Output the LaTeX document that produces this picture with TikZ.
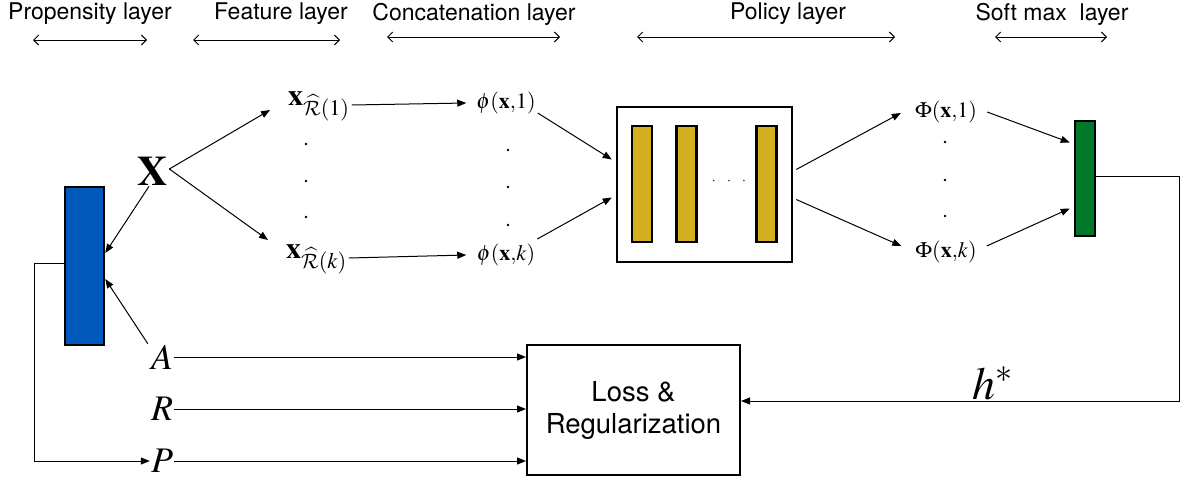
\documentclass[tikz,border=0pt]{standalone}
\usepackage{mathptmx}
\usepackage[no-math]{fontspec}
\setmainfont{TeX Gyre Heros}
\DeclareMathAlphabet{\mathcal}{OMS}{cmsy}{m}{n}
\usepackage{tikz}
\usetikzlibrary{positioning, arrows.meta, calc}
\definecolor{propblue}{HTML}{0058BB}
\definecolor{softgreen}{HTML}{00782A}
\definecolor{policygold}{HTML}{D4B020}

\begin{document}
\begin{tikzpicture}[x=1pt, y=-1pt,
    hdr/.style={font=\fontsize{23}{26}\selectfont, inner sep=1pt},
    hdrarrow/.style={{Straight Barb[length=5pt,width=10pt]}-{Straight Barb[length=5pt,width=10pt]}, line width=1pt},
    arr/.style={-{Triangle[length=9pt,width=7pt]}, line width=1pt},
    mlbl/.style={font=\fontsize{22}{24}\selectfont, inner sep=2pt},
    featlbl/.style={font=\fontsize{30}{32}\selectfont, inner sep=2pt, anchor=west},
    bigvar/.style={font=\fontsize{36}{40}\selectfont, inner sep=1pt},
    bar/.style={draw, line width=2.5pt, minimum width=20pt, minimum height=116pt, inner sep=0pt}]
  \useasboundingbox (0,0) rectangle (1184,479);

  % layer headers
  \node[hdr] (hprop) at (90,14) {Propensity layer};
  \node[hdr] (hfeat) at (281,14) {Feature layer};
  \node[hdr] (hconc) at (474,14) {Concatenation layer};
  \node[hdr] (hpol) at (788,14) {Policy layer};
  \node[hdr] (hsoft) at (1052,14) {Soft max\ \ layer};
  \coordinate (hprop-l) at (33,40);   \coordinate (hprop-r) at (147,40);
  \coordinate (hfeat-l) at (193,40);  \coordinate (hfeat-r) at (340,40);
  \coordinate (hconc-l) at (387,37);  \coordinate (hconc-r) at (560,37);
  \coordinate (hpol-l) at (637,37);   \coordinate (hpol-r) at (895,37);
  \coordinate (hsoft-l) at (995,37);  \coordinate (hsoft-r) at (1107,37);
  \draw[hdrarrow] (hprop-l) -- (hprop-r);
  \draw[hdrarrow] (hfeat-l) -- (hfeat-r);
  \draw[hdrarrow] (hconc-l) -- (hconc-r);
  \draw[hdrarrow] (hpol-l) -- (hpol-r);
  \draw[hdrarrow] (hsoft-l) -- (hsoft-r);

  % propensity block and inputs
  \node[draw, fill=propblue, line width=2.5pt, minimum width=39pt, minimum height=158pt,
        inner sep=0pt] (prop) at (84.5,266) {};
  \node[font=\fontsize{42}{46}\selectfont, inner sep=1pt] (X) at (153,171) {$\mathbf{X}$};
  \node[bigvar] (A) at (162,357) {$A$};
  \node[bigvar] (R) at (162,409) {$R$};
  \node[bigvar] (P) at (162,461) {$P$};

  % feature layer
  \node[featlbl] (xr1) at (286,106) {$\mathbf{x}_{\widehat{\mathcal{R}}(1)}$};
  \node[featlbl] (xrk) at (284,259) {$\mathbf{x}_{\widehat{\mathcal{R}}(k)}$};

  % concatenation layer
  \node[mlbl] (phi1) at (506,103) {$\phi(\mathbf{x}{,}1)$};
  \node[mlbl] (phik) at (506,255) {$\phi(\mathbf{x}{,}k)$};

  % policy layer
  \node[draw, line width=2.5pt, minimum width=175pt, minimum height=155pt, inner sep=0pt]
        (policy) at (704.5,184.5) {};
  \node[bar, fill=policygold] (bar1) at (642,184) {};
  \node[bar, fill=policygold] (bar2) at (686.5,184) {};
  \node[bar, fill=policygold] (bar3) at (766.5,184) {};
  \node[font=\fontsize{14}{16}\selectfont] (bdots) at (729,181) {$\cdot\;\;\;\cdot\;\;\;\cdot$};

  % soft max layer
  \node[mlbl] (Phi1) at (946,112) {$\Phi(\mathbf{x}{,}1)$};
  \node[mlbl] (Phik) at (946,252) {$\Phi(\mathbf{x}{,}k)$};
  \node[draw, fill=softgreen, line width=2.5pt, minimum width=20pt, minimum height=115pt,
        inner sep=0pt] (soft) at (1085,178.5) {};

  % vertical dots
  \foreach \dx/\dy in {306/144, 306/181, 306/217, 508/150, 508/187, 508/225, 945/142, 945/180, 945/216}
    \fill (\dx,\dy) circle (1.3pt);

  % loss
  \node[draw, line width=2pt, minimum width=213pt, minimum height=130pt, align=center,
        font=\fontsize{27.5}{32}\selectfont] (loss) at (633.5,410) {Loss \&\\Regularization};
  \node[font=\fontsize{46}{50}\selectfont, inner sep=0pt, anchor=base west] (hstar) at (972,399) {$h^{*}$};

  % connectors
  \draw[arr] ([xshift=-4pt]X.south) -- ([yshift=13pt]prop.east);
  \draw[arr] ([xshift=-2pt]A.north west) -- ([yshift=-13pt]prop.east);
  \draw[arr] ([yshift=3pt]prop.west) -- ++(-29,0) |- (P.west);
  \draw[arr] ([yshift=2pt]X.east) -- ([xshift=-16pt,yshift=-4pt]xr1.west);
  \draw[arr] ([yshift=2pt]X.east) -- ([xshift=-16pt,yshift=19pt]xrk.west);
  \draw[arr] ([yshift=1pt]xr1.east) -- ([xshift=-8pt]phi1.west);
  \draw[arr] ([yshift=1pt]xrk.east) -- ([xshift=-8pt]phi1.west |- phik.west);
  \draw[arr] ([yshift=-10pt]phi1.east) -- ([xshift=-4pt,yshift=25pt]policy.west);
  \draw[arr] ([yshift=16pt]phik.east) -- ([xshift=-4pt,yshift=-13pt]policy.west);
  \draw[arr] ([xshift=3pt,yshift=15pt]policy.east) -- ([xshift=-12pt,yshift=-1pt]Phi1.west);
  \draw[arr] ([xshift=3pt,yshift=-15pt]policy.east) -- ([xshift=-12pt,yshift=6pt]Phik.west);
  \draw[arr] ([xshift=8pt]Phi1.east) -- ([xshift=-4pt,yshift=36pt]soft.west);
  \draw[arr] ([xshift=8pt,yshift=6pt]Phik.east) -- ([xshift=-4pt,yshift=-30pt]soft.west);
  \draw[arr] (A.east) -- (A.east -| loss.west);
  \draw[arr] (R.east) -- (R.east -| loss.west);
  \draw[arr] (P.east) -- (P.east -| loss.west);
  \draw[arr] ([yshift=2pt]soft.east) -- ++(83,0) |- ([yshift=9pt]loss.east);
\end{tikzpicture}
\end{document}
